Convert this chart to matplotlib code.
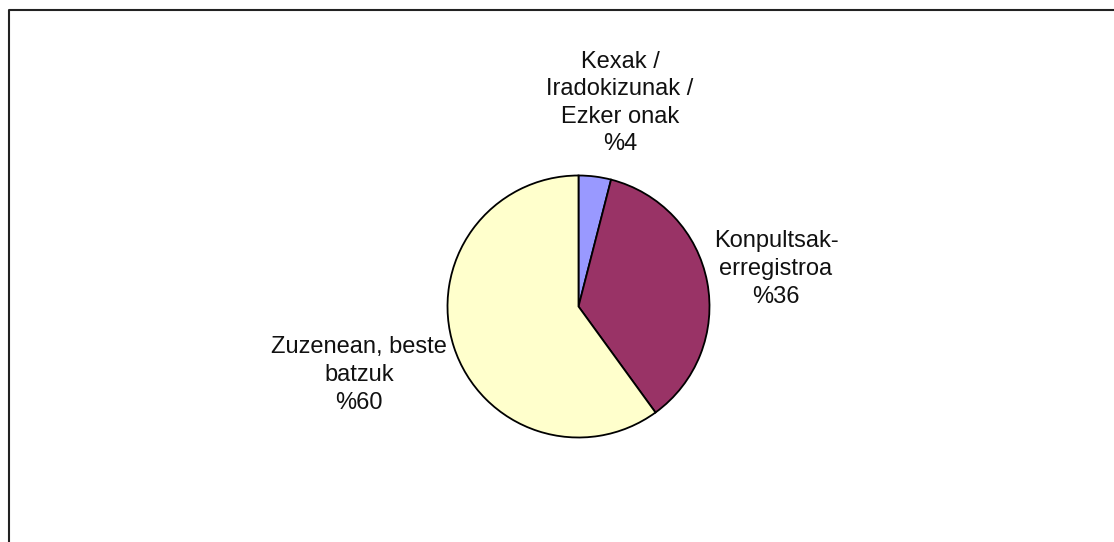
import matplotlib
matplotlib.use("Agg")
import matplotlib.pyplot as plt
from matplotlib.lines import Line2D

categories = ["Kexak /\nIradokizunak /\nEzker onak", "Konpultsak-\nerregistroa", "Zuzenean, beste\nbatzuk"]
values = [4, 36, 60]
colors = ["#9999FF", "#993366", "#FFFFCC"]
label_pos = [(0.317, 1.553), (1.508, 0.286), (-1.676, -0.523)]

W, H = 1114, 542
fig = plt.figure(figsize=(W / 100, H / 100), dpi=100)
plt.rcParams['font.family'] = ['Liberation Sans', 'DejaVu Sans']

cx, cy, r = 578.5, 306.5, 131
ax = fig.add_axes([(cx - r) / W, (H - cy - r) / H, 2 * r / W, 2 * r / H])
ax.pie(values, colors=colors, startangle=90, counterclock=False,
       wedgeprops=dict(edgecolor="black", linewidth=1.3), radius=1)
ax.set_xlim(-1, 1)
ax.set_ylim(-1, 1)
ax.set_aspect("equal")
ax.axis("off")

for lab, v, (x, y) in zip(categories, values, label_pos):
    ax.text(x, y, f"{lab}\n%{v}", ha="center", va="center", fontsize=17,
            linespacing=1.33, clip_on=False, color="#111111")

fig.add_artist(Line2D([8.5 / W, 8.5 / W, 1.0], [0.0, (H - 9.5) / H, (H - 9.5) / H],
                      transform=fig.transFigure, color="#222222", linewidth=1.5))

fig.savefig("out.png", dpi=100)
